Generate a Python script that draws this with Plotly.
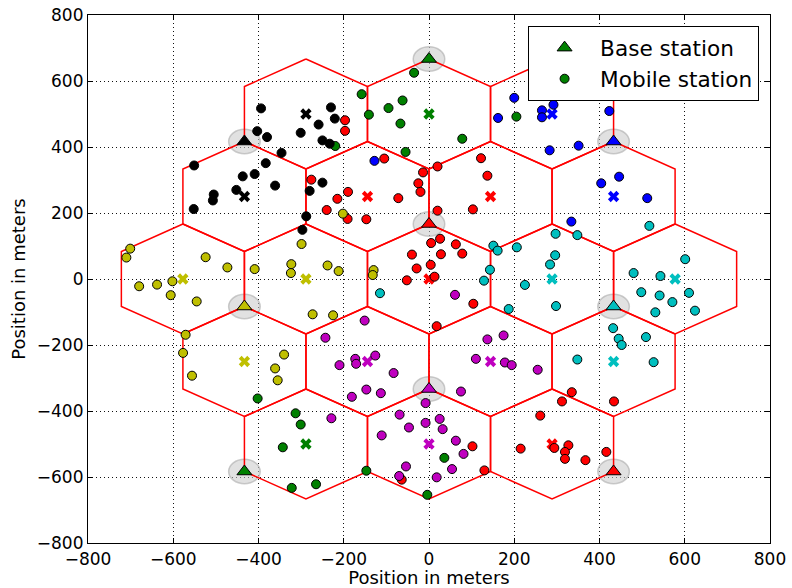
import numpy as np
import plotly.graph_objects as go

# ---------------- data ----------------
CELL_RADIUS = 500.0 / 3.0  # hexagon circumradius in meters

cell_x = [-288.7, 0.0, 288.7,
          -433.0, -144.3, 144.3, 433.0,
          -577.4, -288.7, 0.0, 288.7, 577.4,
          -433.0, -144.3, 144.3, 433.0,
          -288.7, 0.0, 288.7]
cell_y = [500, 500, 500,
          250, 250, 250, 250,
          0, 0, 0, 0, 0,
          -250, -250, -250, -250,
          -500, -500, -500]
cell_site = ["black", "green", "blue",
             "black", "red", "red", "blue",
             "yellow", "yellow", "red", "cyan", "cyan",
             "yellow", "magenta", "magenta", "cyan",
             "green", "magenta", "red"]

bs_x = [0.0, -433.0, 433.0, 0.0, -433.0, 433.0, 0.0, -433.0, 433.0]
bs_y = [666.7, 416.7, 416.7, 166.7, -83.3, -83.3, -333.3, -583.3, -583.3]
bs_site = ["green", "black", "blue", "red", "yellow", "cyan", "magenta", "green", "red"]

ms_green_x = [-35, -158, -62, -95, -141, -67, 78, -55, -220, 205, -402, -313, -301, -343, -322, -265, 36, -147, -4]
ms_green_y = [625, 560, 541, 518, 498, 471, 425, 385, 403, 492, -362, -407, -441, -510, -633, -622, -542, -581, -654]

ms_black_x = [-394, -403, -380, -301, -259, -250, -346, -551, -383, -437, -409, -361, -452, -505, -507, -552, -280, -288, -297, -230, -221, -233, -250]
ms_black_y = [517, 448, 430, 443, 468, 420, 382, 344, 351, 311, 318, 283, 270, 256, 238, 212, 267, 190, 149, 520, 486, 410, 292]

ms_blue_x = [200, 162, 265, 265, 320, 339, 292, 423, 283, 351, 404, 446, 512, 334, -128]
ms_blue_y = [549, 488, 511, 490, 561, 557, 528, 509, 390, 404, 290, 310, 245, 174, 358]

ms_red_x = [-276, -197, -197, -105, -14, 20, 122, 137, -25, -20, -190, -215, -240, -191, -147, -72, 20, 103, 26, 5, 63, 78, 28, -40, 4, -29, 13, -52, 104, 18,
            102, 130, -64, 261, 215, 335, 312, 434, 294, 327, 319, 319, 367, 416]
ms_red_y = [301, 481, 449, 365, 323, 341, 366, 313, 290, 264, 264, 243, 209, 182, 181, 245, 207, 211, 122, 109, 105, 77, 75, 74, 43, 32, 7, -4, -75, -143,
            -507, -580, -608, -414, -514, -343, -371, -371, -512, -504, -524, -545, -549, -524]

ms_yellow_x = [-299, -323, -324, -273, -701, -710, -524, -473, -409, -680, -638, -602, -606, -545, -571, -577, -340, -202, -238, -212, -130, -132, -225, -556, -361, -355]
ms_yellow_y = [106, 45, 18, -107, 92, 65, 66, 35, 30, -22, -17, -7, -49, -68, -169, -224, -229, 198, 41, 24, 27, 12, -110, -293, -271, -307]

ms_cyan_x = [-115, 151, 161, 206, 143, 129, 225, 187, 517, 297, 348, 296, 284, 298, 601, 480, 543, 498, 541, 610, 571, 624, 531, 432, 445, 452, 509, 348, 527]
ms_cyan_y = [-43, 101, 86, 96, 28, -5, -18, -91, 161, 137, 133, 72, 44, -82, 60, 18, 9, -40, -50, -42, -70, -96, -101, -149, -181, -200, -176, -244, -252]

ms_magenta_x = [61, -151, -243, -173, -171, -126, -210, 175, 137, 110, 178, 194, -83, -147, -181, -113, -8, 75, 255, -229, -69, -47, -8, 25, 32, -111, 63, 81, 54, -54, -70, 18]
ms_magenta_y = [-48, -126, -178, -242, -257, -232, -261, -171, -183, -242, -253, -261, -285, -335, -357, -346, -376, -341, -275, -422, -411, -450, -436, -424, -455, -474, -490, -530, -576, -568, -597, -601]

tick_vals = [-800, -600, -400, -200, 0, 200, 400, 600, 800]

# ---------------- styles ----------------
COLORS = {
    "green": "#008000", "black": "#000000", "blue": "#0000ff", "red": "#ff0000",
    "yellow": "#bfbf00", "cyan": "#00bfbf", "magenta": "#bf00bf",
}
FONT = "DejaVu Sans"
HALO_R = 37.0

# ---------------- build ----------------
fig = go.Figure()

# hexagon outlines
hx, hy = [], []
angles = np.deg2rad(np.arange(90, 90 + 361, 60))
for cx, cy in zip(cell_x, cell_y):
    hx.extend(list(cx + CELL_RADIUS * np.cos(angles)) + [None])
    hy.extend(list(cy + CELL_RADIUS * np.sin(angles)) + [None])
fig.add_trace(go.Scatter(x=hx, y=hy, mode="lines", line=dict(color="#ff0000", width=1.5),
                         showlegend=False, hoverinfo="skip"))

# cell centre crosses
fig.add_trace(go.Scatter(x=cell_x, y=cell_y, mode="markers",
                         marker=dict(symbol="x", size=10, color=[COLORS[s] for s in cell_site],
                                     line=dict(width=0)),
                         showlegend=False))

# mobile stations
groups = [("green", ms_green_x, ms_green_y), ("black", ms_black_x, ms_black_y),
          ("blue", ms_blue_x, ms_blue_y), ("red", ms_red_x, ms_red_y),
          ("yellow", ms_yellow_x, ms_yellow_y), ("cyan", ms_cyan_x, ms_cyan_y),
          ("magenta", ms_magenta_x, ms_magenta_y)]
mx, my, mc = [], [], []
for name, gx, gy in groups:
    mx += gx
    my += gy
    mc += [COLORS[name]] * len(gx)
fig.add_trace(go.Scatter(x=mx, y=my, mode="markers", name="Mobile station",
                         marker=dict(symbol="circle", size=9, color=mc,
                                     line=dict(color="black", width=1))))

# base stations
fig.add_trace(go.Scatter(x=bs_x, y=bs_y, mode="markers", name="Base station",
                         marker=dict(symbol="triangle-up", size=13,
                                     color=[COLORS[s] for s in bs_site],
                                     line=dict(color="black", width=1))))

# halos around base stations
for bx, by in zip(bs_x, bs_y):
    fig.add_shape(type="circle", xref="x", yref="y",
                  x0=bx - HALO_R, x1=bx + HALO_R, y0=by - HALO_R, y1=by + HALO_R,
                  fillcolor="rgba(200,200,200,0.55)", line=dict(color="rgba(170,170,170,0.6)", width=1.5),
                  layer="between")

axis_common = dict(
    range=[-800, 800], tickvals=tick_vals, ticks="inside", ticklen=5, tickwidth=1,
    tickcolor="black", mirror="allticks", showline=True, linecolor="black", linewidth=1.2,
    showgrid=True, gridcolor="#111111", gridwidth=1, griddash="1px,3px", zeroline=False,
    tickfont=dict(family=FONT, size=17, color="black"), automargin=False,
)

fig.update_layout(
    width=792, height=588,
    margin=dict(l=88, r=22, t=15, b=45),
    paper_bgcolor="white", plot_bgcolor="white",
    font=dict(family=FONT, color="black"),
    xaxis=dict(title=dict(text="Position in meters", font=dict(family=FONT, size=18), standoff=0),
               **axis_common),
    yaxis=dict(title=dict(text="Position in meters", font=dict(family=FONT, size=18), standoff=6),
               **axis_common),
    legend=dict(x=0.984, y=0.979, xanchor="right", yanchor="top",
                bgcolor="white", bordercolor="black", borderwidth=1,
                font=dict(family=FONT, size=21.6, color="black"),
                traceorder="reversed", itemwidth=61, tracegroupgap=0),
    showlegend=True,
)

fig.write_html("out.html")
